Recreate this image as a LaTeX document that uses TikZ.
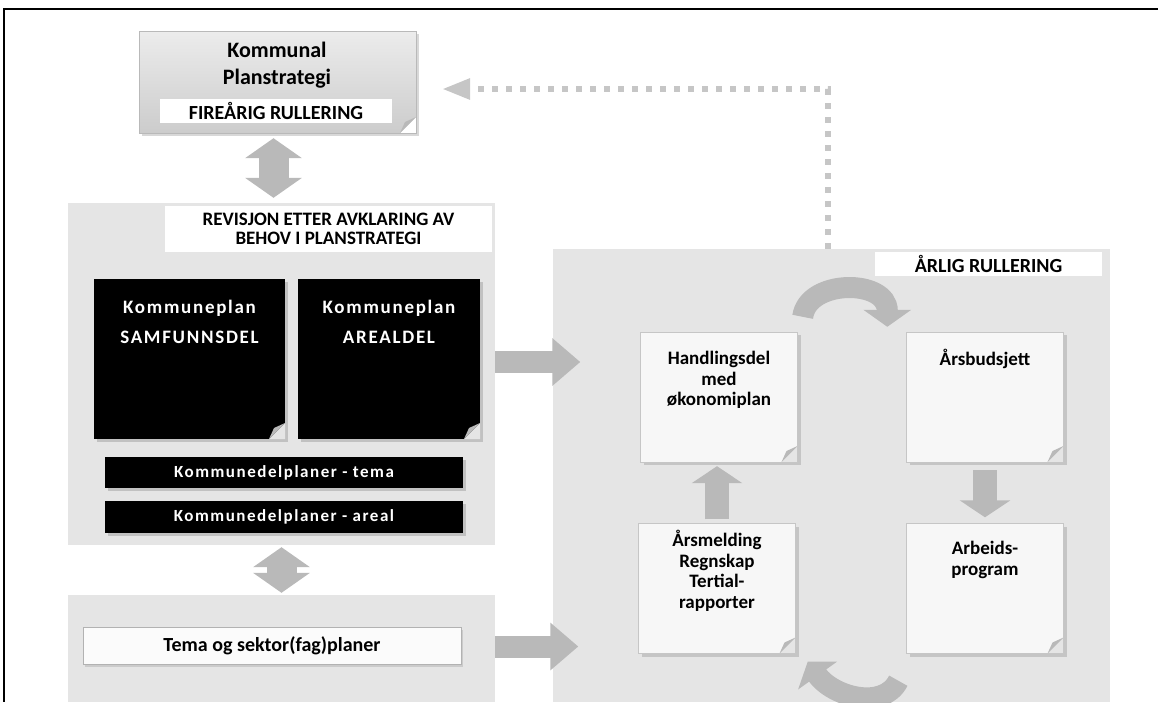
\documentclass[tikz,border=0pt]{standalone}
\usepackage{fontspec}
\setmainfont{Carlito}
\usetikzlibrary{arrows.meta, shadows, positioning}

\begin{document}
\begin{tikzpicture}[x=1pt, y=1pt, font=\bfseries]
  %Defining a folded corner for the paper blocks
  \tikzset{fold/.style={path picture={
    \fill[#1] ([xshift=-16pt]path picture bounding box.south east) -- (path picture bounding box.south east) -- ([yshift=16pt]path picture bounding box.south east) -- cycle;
    \fill[gray!55] ([xshift=-16pt]path picture bounding box.south east) -- ([yshift=16pt]path picture bounding box.south east) -- ([shift={(-11pt,11pt)}]path picture bounding box.south east) -- cycle;
  }}}

  %Block styles
  \tikzstyle{panel} = [fill=gray!20, inner sep=0pt]
  \tikzstyle{whitetag} = [fill=white, inner sep=0pt, align=center, font=\fontsize{19}{19}\selectfont\bfseries]
  \tikzstyle{strategy} = [top color=gray!15, bottom color=gray!40, draw=gray!55, inner sep=0pt, drop shadow={shadow xshift=3pt, shadow yshift=-3pt, fill=gray!60}, fold=white]
  \tikzstyle{darkplan} = [fill=black, text=white, inner sep=0pt, drop shadow={shadow xshift=3pt, shadow yshift=-3pt, fill=gray!75}]
  \tikzstyle{paper} = [fill=gray!6, draw=gray!45, inner sep=0pt, minimum width=157pt, minimum height=130pt, drop shadow={shadow xshift=3pt, shadow yshift=-3pt, fill=gray!70}, fold=gray!20]
  \tikzstyle{plantext} = [text=white, align=center, font=\fontsize{19}{30}\selectfont\bfseries\addfontfeature{LetterSpace=9}]
  \tikzstyle{bartext} = [font=\fontsize{17}{18}\selectfont\bfseries\addfontfeature{LetterSpace=9}]
  \tikzstyle{papertext} = [align=center, font=\fontsize{19}{20.5}\selectfont\bfseries]
  \tikzstyle{fatarrow} = [draw=gray!55, line width=22pt, -{Triangle[length=28pt, width=46pt]}]
  \tikzstyle{steparrow} = [draw=gray!55, line width=24pt, -{Triangle[length=17pt, width=50pt]}]
  \tikzstyle{twoway} = [draw=gray!55, line width=30pt, {Triangle[length=20pt, width=56pt]}-{Triangle[length=20pt, width=56pt]}]
  \tikzstyle{cyclearrow} = [draw=gray!55, line width=21pt, -{Triangle[length=17pt, width=47pt]}]
  \tikzstyle{dotline} = [draw=gray!45, line width=6pt, dash pattern=on 6pt off 8pt, -{Triangle[length=28pt, width=20pt]}]

  \useasboundingbox (0,0) rectangle (1158,-702);
  \draw[line width=2pt] (1158,-9) -- (4,-9) -- (4,-702);

  %Nodes
  \node[strategy, minimum width=277pt, minimum height=102pt] (kps) at (277.5,-82) {};
  \node[align=center, font=\fontsize{22}{27}\selectfont\bfseries] (kpsname) at (277,-65) {Kommunal\\Planstrategi};
  \node[whitetag, font=\fontsize{20}{20}\selectfont\bfseries, minimum width=232pt, minimum height=24pt] (kpstag) at (276,-111) {FIREÅRIG RULLERING};

  \node[panel, minimum width=427pt, minimum height=342pt] (revpanel) at (281.5,-374) {};
  \node[whitetag, minimum width=327pt, minimum height=46pt] (revtag) at (328.5,-229) {REVISJON ETTER AVKLARING AV\\BEHOV I PLANSTRATEGI};
  \node[darkplan, fold=gray!20, minimum width=191pt, minimum height=160pt] (samf) at (189.5,-359) {};
  \node[darkplan, fold=gray!20, minimum width=182pt, minimum height=160pt] (areal) at (389,-359) {};
  \node[plantext] (samftext) at (189.5,-322) {Kommuneplan\\SAMFUNNSDEL};
  \node[plantext] (arealtext) at (389,-322) {Kommuneplan\\AREALDEL};
  \node[darkplan, bartext, minimum width=358pt, minimum height=31pt] (kdptema) at (284,-472.5) {Kommunedelplaner - tema};
  \node[darkplan, bartext, minimum width=358pt, minimum height=32pt] (kdpareal) at (284,-517) {Kommunedelplaner - areal};

  \node[panel, minimum width=427pt, minimum height=107pt] (sektorpanel) at (281.5,-648.5) {};
  \node[fill=gray!3, draw=gray!60, minimum width=378pt, minimum height=37pt, drop shadow={shadow xshift=2pt, shadow yshift=-3pt, fill=gray!60}, font=\fontsize{20}{20}\selectfont\bfseries] (sektor) at (272,-645.5) {Tema og sektor(fag)planer};

  \node[panel, minimum width=557pt, minimum height=453pt] (arpanel) at (831.5,-475.5) {};
  \node[whitetag, font=\fontsize{20}{20}\selectfont\bfseries, minimum width=227pt, minimum height=24pt] (artag) at (988.5,-263.5) {ÅRLIG RULLERING};

  \node[paper] (handl) at (719,-397) {};
  \node[paper] (budsj) at (985,-397) {};
  \node[paper] (arsm) at (717,-588.5) {};
  \node[paper] (arbeid) at (985,-588.5) {};
  \node[papertext] (handltext) at (719,-380) {Handlingsdel\\med\\økonomiplan};
  \node[papertext] (budsjtext) at (985,-359) {Årsbudsjett};
  \node[papertext] (arsmtext) at (717,-571) {Årsmelding\\Regnskap\\Tertial-\\rapporter};
  \node[papertext] (arbeidtext) at (985,-560) {Arbeids-\\program};

  %Connectors
  \coordinate (dotturn) at (828,-89);
  \draw[dotline, shorten >=26pt] (dotturn |- arpanel.north) -- (dotturn) -- (dotturn -| kps.east);
  \draw[twoway, shorten <=5pt, shorten >=5pt] ([xshift=-4pt]kps.south) -- ([xshift=-4pt]kps.south |- revpanel.north);
  \draw[twoway, shorten <=2pt, shorten >=2pt] (revpanel.south) -- (sektorpanel.north);
  \draw[fatarrow, shorten >=60pt] ([yshift=12pt]revpanel.east) -- ([yshift=12pt]revpanel.east -| handl.west);
  \draw[fatarrow, shorten >=60pt] ([yshift=2pt]sektorpanel.east) -- ([yshift=2pt]sektorpanel.east -| arsm.west);
  \draw[steparrow, shorten <=4pt, shorten >=4pt] (arsm.north) -- (arsm.north |- handl.south);
  \draw[steparrow, shorten <=8pt, shorten >=6pt] (budsj.south) -- (arbeid.north);
  \draw[cyclearrow] ([shift={(5,15)}]handl.north east) .. controls +(5,38) and +(0,48) .. ([shift={(-19,5)}]budsj.north west);
  \draw[cyclearrow] ([shift={(-8,-27)}]arbeid.south west) .. controls +(-15,-30) and +(25,-35) .. ([shift={(12,-8)}]arsm.south east);
\end{tikzpicture}
\end{document}
